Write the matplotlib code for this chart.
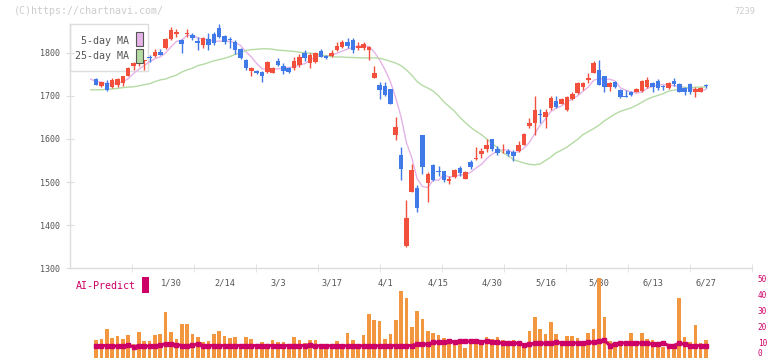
import numpy as np
import pandas as pd
import matplotlib
matplotlib.use('Agg')
import matplotlib.pyplot as plt
from matplotlib.patches import Rectangle
from matplotlib.transforms import offset_copy

# --- données (séances du 8/1 au 27/6) ---
opens = [1738, 1740, 1723, 1729, 1721, 1725, 1729, 1746, 1768, 1774,
         1780, 1788, 1792, 1802, 1812, 1831, 1843, 1829, 1844, 1842,
         1826, 1817, 1832, 1844, 1857, 1839, 1830, 1824, 1809, 1784,
         1758, 1758, 1756, 1755, 1754, 1781, 1770, 1765, 1764, 1772,
         1800, 1777, 1779, 1804, 1792, 1792, 1806, 1814, 1825, 1829,
         1810, 1812, 1806, 1742, 1724, 1722, 1715, 1610, 1562, 1351,
         1477, 1487, 1609, 1498, 1540, 1525, 1525, 1502, 1512, 1532,
         1508, 1546, 1553, 1566, 1577, 1600, 1577, 1571, 1573, 1570,
         1571, 1587, 1629, 1637, 1657, 1652, 1672, 1688, 1682, 1666,
         1693, 1706, 1721, 1737, 1754, 1760, 1745, 1721, 1731, 1714,
         1699, 1710, 1710, 1712, 1721, 1729, 1735, 1722, 1718, 1735,
         1727, 1718, 1728, 1709, 1710, 1724]
highs = [1739, 1742, 1733, 1737, 1741, 1742, 1747, 1766, 1779, 1787,
         1784, 1795, 1808, 1808, 1834, 1860, 1854, 1831, 1854, 1845,
         1837, 1836, 1845, 1848, 1866, 1842, 1837, 1829, 1810, 1786,
         1767, 1760, 1757, 1781, 1766, 1788, 1776, 1767, 1791, 1796,
         1806, 1800, 1802, 1808, 1795, 1806, 1824, 1829, 1834, 1833,
         1824, 1824, 1816, 1770, 1731, 1731, 1716, 1652, 1581, 1459,
         1542, 1494, 1610, 1523, 1541, 1537, 1526, 1515, 1531, 1538,
         1526, 1551, 1581, 1579, 1600, 1601, 1583, 1588, 1576, 1574,
         1596, 1613, 1648, 1700, 1670, 1670, 1700, 1700, 1695, 1700,
         1708, 1731, 1731, 1754, 1781, 1782, 1747, 1731, 1734, 1716,
         1714, 1712, 1719, 1737, 1743, 1733, 1739, 1725, 1731, 1741,
         1729, 1720, 1729, 1720, 1720, 1727]
lows = [1738, 1725, 1720, 1712, 1719, 1720, 1723, 1745, 1760, 1770,
        1760, 1779, 1791, 1794, 1808, 1829, 1836, 1799, 1836, 1830,
        1806, 1812, 1806, 1818, 1835, 1820, 1810, 1796, 1786, 1760,
        1747, 1750, 1733, 1752, 1752, 1768, 1750, 1754, 1760, 1766,
        1780, 1764, 1777, 1789, 1785, 1790, 1803, 1810, 1810, 1800,
        1806, 1806, 1782, 1741, 1693, 1700, 1680, 1597, 1504, 1350,
        1476, 1431, 1518, 1454, 1502, 1515, 1499, 1496, 1510, 1514,
        1506, 1530, 1551, 1556, 1569, 1572, 1563, 1568, 1561, 1549,
        1570, 1586, 1625, 1608, 1638, 1625, 1668, 1672, 1680, 1664,
        1691, 1704, 1714, 1730, 1752, 1725, 1710, 1712, 1718, 1695,
        1697, 1699, 1708, 1710, 1719, 1710, 1714, 1713, 1716, 1723,
        1708, 1703, 1705, 1698, 1709, 1718]
closes = [1739, 1726, 1731, 1714, 1736, 1739, 1745, 1764, 1775, 1785,
          1783, 1787, 1802, 1795, 1832, 1852, 1849, 1820, 1846, 1834,
          1823, 1834, 1818, 1822, 1837, 1824, 1829, 1806, 1788, 1764,
          1765, 1752, 1746, 1779, 1764, 1772, 1758, 1756, 1781, 1791,
          1787, 1795, 1800, 1791, 1787, 1799, 1816, 1825, 1815, 1806,
          1815, 1820, 1814, 1752, 1714, 1702, 1682, 1627, 1531, 1416,
          1527, 1439, 1536, 1518, 1504, 1524, 1504, 1506, 1529, 1520,
          1524, 1535, 1554, 1571, 1587, 1577, 1568, 1572, 1565, 1560,
          1587, 1612, 1636, 1668, 1656, 1663, 1695, 1675, 1693, 1697,
          1705, 1729, 1729, 1742, 1775, 1726, 1721, 1729, 1720, 1697,
          1698, 1701, 1715, 1735, 1737, 1720, 1718, 1721, 1730, 1728,
          1710, 1709, 1709, 1715, 1718, 1723]
ma25 = [1714, 1714, 1714, 1715, 1716, 1717, 1719, 1720, 1721, 1723,
        1726, 1728, 1733, 1737, 1739, 1744, 1748, 1755, 1760, 1764,
        1770, 1773, 1777, 1781, 1784, 1787, 1791, 1796, 1800, 1805,
        1807, 1808, 1809, 1809, 1808, 1806, 1805, 1804, 1803, 1801,
        1800, 1799, 1797, 1795, 1793, 1791, 1790, 1790, 1789, 1789,
        1788, 1788, 1788, 1788, 1787, 1784, 1780, 1776, 1770, 1760,
        1748, 1733, 1724, 1718, 1711, 1700, 1686, 1675, 1664, 1650,
        1638, 1627, 1618, 1610, 1600, 1590, 1580, 1568, 1561, 1552,
        1548, 1544, 1541, 1540, 1542, 1550, 1558, 1568, 1574, 1581,
        1590, 1599, 1610, 1617, 1624, 1632, 1642, 1650, 1658, 1664,
        1668, 1672, 1678, 1685, 1692, 1697, 1701, 1705, 1711, 1713,
        1716, 1719, 1719, 1720, 1720, 1721]

# panneau AI-Predict (à partir de la 2e séance)
ai_bars = [11.5, 12.2, 18.4, 13.0, 14.0, 12.2, 14.7, 8.8, 16.6, 10.9,
           10.9, 14.7, 15.3, 29.1, 16.6, 12.2, 21.6, 21.6, 15.3, 13.4,
           10.1, 10.9, 15.3, 17.2, 14.0, 12.8, 13.4, 8.8, 13.4, 12.2,
           8.4, 10.1, 8.8, 11.5, 10.3, 10.3, 9.0, 13.4, 11.5, 9.6,
           11.5, 11.5, 8.4, 8.0, 9.0, 10.9, 9.0, 15.9, 11.5, 8.4,
           14.7, 27.9, 24.1, 23.1, 12.2, 15.3, 24.1, 41.9, 37.5, 19.7,
           29.8, 24.7, 17.2, 15.9, 14.7, 12.8, 10.9, 11.5, 9.6, 6.5,
           11.5, 10.9, 9.6, 13.4, 12.2, 13.4, 11.5, 10.3, 11.5, 9.6,
           9.6, 17.2, 26.0, 18.4, 15.3, 22.9, 15.3, 10.9, 14.0, 14.0,
           12.8, 9.0, 15.9, 18.4, 49.9, 26.0, 10.9, 8.4, 10.9, 9.6,
           15.9, 10.9, 15.9, 12.2, 11.5, 9.6, 7.1, 9.0, 7.8, 37.9,
           13.4, 10.3, 21.0, 9.6, 11.5]
ai_line = [8.0, 8.0, 8.0, 8.0, 7.4, 7.4, 8.2, 7.2, 8.0, 7.6,
           7.6, 7.6, 8.2, 9.2, 8.8, 8.6, 8.0, 7.5, 8.2, 9.0,
           8.0, 8.0, 8.0, 8.0, 8.0, 8.0, 8.0, 8.0, 8.0, 8.0,
           8.0, 8.0, 8.0, 8.0, 8.0, 8.0, 8.0, 8.0, 8.0, 8.0,
           8.3, 7.8, 7.8, 7.8, 7.8, 7.8, 7.8, 7.8, 7.8, 7.8,
           7.8, 7.8, 7.8, 7.8, 8.0, 8.0, 8.0, 8.0, 8.0, 8.0,
           8.8, 8.8, 8.8, 10.0, 10.0, 10.0, 10.9, 10.0, 10.9, 10.7,
           10.7, 11.1, 10.0, 10.9, 10.0, 10.0, 9.4, 9.4, 9.4, 9.4,
           8.4, 8.8, 9.4, 9.4, 9.4, 9.4, 10.0, 9.6, 9.6, 9.6,
           9.6, 9.6, 10.0, 10.0, 10.9, 11.3, 8.0, 8.8, 9.6, 9.6,
           9.6, 9.6, 9.6, 9.6, 8.8, 8.8, 9.4, 8.0, 8.0, 9.4,
           8.8, 8.0, 8.0, 8.0, 8.0]

date_labels = ['1/30', '2/14', '3/3', '3/17', '4/1', '4/15',
               '4/30', '5/16', '5/30', '6/13', '6/27']
date_pos = [15, 25, 35, 45, 55, 65, 75, 85, 95, 105, 115]
price_ticks = [1300, 1400, 1500, 1600, 1700, 1800]
ai_ticks = [0, 10, 20, 30, 40, 50]

# --- couleurs ---
UP = '#f2503c'
DOWN = '#3f7ae8'
MA5_C = '#e6b3e8'
MA25_C = '#b5dba5'
AI_C = '#cc0066'
BAR_C = '#f29640'
AXC = '#dddddd'
TXT = '#555555'
FONT = 'DejaVu Sans Mono'

W, H = 772, 361
xmin, xmax = -3.88, 123.65

n = len(closes)
x = np.arange(n)
o = np.array(opens); c = np.array(closes)
hi = np.array(highs); lo = np.array(lows)
ma5 = pd.Series(closes).rolling(5, min_periods=1).mean()

fig = plt.figure(figsize=(W / 100, H / 100), dpi=100)

# =============================================================================
# --- Panneau principal -------------------------------------------------------
# =============================================================================
ax = fig.add_axes([70 / W, (H - 268.3) / H, (752.3 - 70) / W, (268.3 - 5) / H])
ax.set_xlim(xmin, xmax)
ax.set_ylim(1300, 1910.6)
for s in ['top', 'right']:
    ax.spines[s].set_visible(False)
for s in ['left', 'bottom']:
    ax.spines[s].set_color(AXC)
    ax.spines[s].set_linewidth(1)
ax.spines['left'].set_bounds(1300, 1866)   # l'axe s'arrete sous la legende

up = c >= o
colors = np.where(up, UP, DOWN)
ax.vlines(x, lo, hi, colors=colors, linewidth=1, zorder=3)
body = np.maximum(np.abs(c - o), 2.0)
ax.bar(x, body, bottom=np.minimum(o, c), width=0.85, color=colors,
       linewidth=0, zorder=4)

ax.plot(x, ma5, color=MA5_C, lw=1, zorder=2)
ax.plot(x, ma25, color=MA25_C, lw=1, zorder=2)

ax.set_yticks(price_ticks)
ax.set_yticklabels([str(p) for p in price_ticks], fontsize=6, color=TXT,
                   family=FONT)
ax.tick_params(axis='y', direction='inout', length=6, color=AXC, pad=4)

ax.set_xticks(date_pos)
ax.set_xticklabels(date_labels, fontsize=6.2, color=TXT, family=FONT)
ax.tick_params(axis='x', which='major', length=0, pad=7)
ax.set_xticks(np.linspace(xmin, xmax, 12)[1:], minor=True)
ax.tick_params(axis='x', which='minor', direction='inout', length=6,
               color=AXC)

# légende
ax_leg = fig.add_axes([0, 0, 1, 1], zorder=-1)
ax_leg.set_xlim(0, W)
ax_leg.set_ylim(H, 0)
ax_leg.axis('off')
ax.patch.set_alpha(0)
ax_leg.add_patch(Rectangle((70, 24), 78, 47, facecolor='white',
                           edgecolor=AXC, lw=1))

fig.text(129 / W, 1 - 40.5 / H, '5-day MA', ha='right', va='center',
         fontsize=7.2, color=TXT, family=FONT)
fig.text(129 / W, 1 - 56 / H, '25-day MA', ha='right', va='center',
         fontsize=7.2, color=TXT, family=FONT)
ax_top = fig.add_axes([0, 0, 1, 1], zorder=5)
ax_top.set_xlim(0, W)
ax_top.set_ylim(H, 0)
ax_top.axis('off')
ax_top.add_patch(Rectangle((136, 31.5), 6.5, 14.5, facecolor=MA5_C,
                           edgecolor='#555555', lw=0.8))
ax_top.add_patch(Rectangle((136, 48.5), 6.5, 14.5, facecolor=MA25_C,
                           edgecolor='#555555', lw=0.8))
ax_top.add_patch(Rectangle((142, 277), 7, 16, facecolor=AI_C,
                           edgecolor='none'))

fig.text(14 / W, 1 - 11.5 / H, '(C)https://chartnavi.com/', ha='left',
         va='center', fontsize=7.2, color='#cccccc', family=FONT)
fig.text(755 / W, 1 - 11.5 / H, '7239', ha='right', va='center',
         fontsize=6.3, color='#cccccc', family=FONT)
fig.text(76 / W, 1 - 286 / H, 'AI-Predict', ha='left', va='center',
         fontsize=7.2, color=AI_C, family=FONT)

# =============================================================================
# --- Panneau AI-Predict ------------------------------------------------------
# =============================================================================
ax2 = fig.add_axes([70 / W, (H - 358.3) / H, (752.3 - 70) / W,
                    (358.3 - 278.3) / H])
ax2.set_xlim(xmin, xmax)
ax2.set_ylim(0, 50)
ax2.patch.set_alpha(0)
for s in ax2.spines.values():
    s.set_visible(False)
x2 = np.arange(1, n)
ax2.bar(x2, ai_bars, width=0.68, color=BAR_C, linewidth=0, zorder=2)
ax2.plot(x2, ai_line, color=AI_C, lw=2.2, marker='s', markersize=2.6,
         zorder=3)
ax2.set_xticks([])
ax2.yaxis.tick_right()
ax2.set_yticks(ai_ticks)
ax2.set_yticklabels([str(v) for v in ai_ticks], fontsize=5.6, color=AI_C,
                    family=FONT)
for lab in ax2.get_yticklabels():
    if lab.get_text() == '0':
        lab.set_va('bottom')
        lab.set_transform(offset_copy(lab.get_transform(), fig=fig,
                                      y=-2.5, units='points'))
ax2.tick_params(axis='y', length=0, pad=4)

fig.savefig('out.png', dpi=100)
